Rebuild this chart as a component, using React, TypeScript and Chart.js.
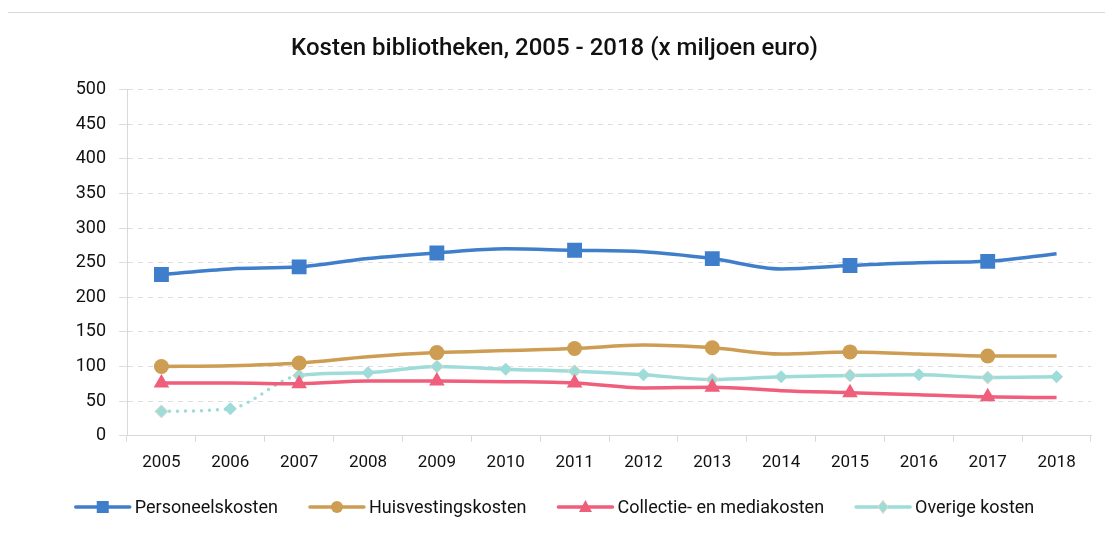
import React, { useEffect, useRef } from 'react';
import { Chart, registerables } from 'chart.js';
Chart.register(...registerables);

const years = ['2005', '2006', '2007', '2008', '2009', '2010', '2011', '2012', '2013', '2014', '2015', '2016', '2017', '2018'];
const personeelskosten = [233, 241, 244, 256, 264, 270, 268, 266, 256, 241, 246, 250, 252, 263];
const huisvestingskosten = [100, 101, 105, 114, 120, 123, 126, 131, 127, 118, 121, 118, 115, 115];
const collectiekosten = [76, 76, 75, 79, 79, 78, 76, 69, 70, 65, 62, 59, 56, 55];
const overigeKosten = [35, 39, 87, 91, 100, 96, 93, 88, 81, 85, 87, 88, 84, 85];
const yTicks = [0, 50, 100, 150, 200, 250, 300, 350, 400, 450, 500];

const BLUE = '#3f7ecb';
const GOLD = '#cc9d52';
const PINK = '#ef5e7b';
const TEAL = '#9ddcd8';
const FONT = 'Roboto, "DejaVu Sans", sans-serif';

type Shape = 'rect' | 'circle' | 'triangle' | 'rectRot';
const legendShapes: Shape[] = ['rect', 'circle', 'triangle', 'rectRot'];

function drawMarker(g: CanvasRenderingContext2D, shape: Shape, cx: number, cy: number, color: string, border?: string) {
  g.fillStyle = color;
  g.beginPath();
  if (shape === 'rect') {
    g.rect(cx - 6, cy - 6, 12, 12);
  } else if (shape === 'circle') {
    g.arc(cx, cy, 6, 0, Math.PI * 2);
  } else if (shape === 'triangle') {
    g.moveTo(cx, cy - 7);
    g.lineTo(cx + 6.5, cy + 5);
    g.lineTo(cx - 6.5, cy + 5);
    g.closePath();
  } else {
    g.moveTo(cx, cy - 6.5);
    g.lineTo(cx + 5, cy);
    g.lineTo(cx, cy + 6.5);
    g.lineTo(cx - 5, cy);
    g.closePath();
  }
  g.fill();
  if (border) {
    g.strokeStyle = border;
    g.lineWidth = 1;
    g.stroke();
  }
}

const customLegend = {
  id: 'customLegend',
  afterDraw(chart: any) {
    const g: CanvasRenderingContext2D = chart.ctx;
    const datasets = chart.data.datasets;
    const lineLen = 56;
    const textGap = 4;
    const itemGap = 31;
    const cy = 494;
    const centerX = 546.5;
    g.save();
    g.font = `18px ${FONT}`;
    const widths = datasets.map((d: any) => g.measureText(d.label).width);
    const total = widths.reduce((a: number, b: number) => a + b, 0) + datasets.length * (lineLen + textGap) + (datasets.length - 1) * itemGap;
    let x = centerX - total / 2;
    datasets.forEach((d: any, i: number) => {
      g.strokeStyle = d.borderColor;
      g.lineWidth = 3.5;
      g.lineCap = 'round';
      g.beginPath();
      g.moveTo(x + 1, cy);
      g.lineTo(x + lineLen - 1, cy);
      g.stroke();
      drawMarker(g, legendShapes[i], x + lineLen / 2, cy, d.borderColor, i === 3 ? '#e6d8c2' : undefined);
      g.fillStyle = '#111';
      g.textBaseline = 'middle';
      g.textAlign = 'left';
      g.fillText(d.label, x + lineLen + textGap, cy + 1);
      x += lineLen + textGap + widths[i] + itemGap;
    });
    g.restore();
  },
};

const oddOnly = (r: number) => years.map((_, i) => (i % 2 === 0 && i < 13 ? r : 0));

export default function App() {
  const ref = useRef<HTMLCanvasElement>(null);
  useEffect(() => {
    if (!ref.current) return;
    const chart = new Chart(ref.current, {
      type: 'line',
      plugins: [customLegend],
      data: {
        labels: years,
        datasets: [
          {
            label: 'Personeelskosten',
            data: personeelskosten,
            borderColor: BLUE,
            backgroundColor: BLUE,
            borderWidth: 3.5,
            pointStyle: 'rect',
            pointRadius: oddOnly(10.5),
            pointBorderWidth: 0,
            cubicInterpolationMode: 'monotone',
          },
          {
            label: 'Huisvestingskosten',
            data: huisvestingskosten,
            borderColor: GOLD,
            backgroundColor: GOLD,
            borderWidth: 3.5,
            pointStyle: 'circle',
            pointRadius: oddOnly(7.5),
            pointBorderWidth: 0,
            cubicInterpolationMode: 'monotone',
          },
          {
            label: 'Collectie- en mediakosten',
            data: collectiekosten,
            borderColor: PINK,
            backgroundColor: PINK,
            borderWidth: 3.5,
            pointStyle: 'triangle',
            pointRadius: oddOnly(9),
            pointBorderWidth: 0,
            cubicInterpolationMode: 'monotone',
          },
          {
            label: 'Overige kosten',
            data: overigeKosten,
            borderColor: TEAL,
            backgroundColor: TEAL,
            borderWidth: 3.5,
            borderCapStyle: 'round',
            pointStyle: 'rectRot',
            pointRadius: 6.5,
            pointBorderWidth: years.map((_, i) => (i % 2 === 0 && i < 13 ? 1 : 0)),
            pointBorderColor: years.map((_, i) => (i % 2 === 0 && i < 13 ? '#e6d8c2' : TEAL)),
            cubicInterpolationMode: 'monotone',
            segment: {
              borderDash: (ctx: any) => (ctx.p0DataIndex < 2 ? [0, 8] : undefined),
            },
          },
        ],
      },
      options: {
        animation: false,
        responsive: true,
        maintainAspectRatio: false,
        layout: { padding: { left: 10, right: 21, top: 0, bottom: 49 } },
        plugins: {
          tooltip: { enabled: false },
          legend: { display: false },
          title: {
            display: true,
            text: 'Kosten bibliotheken, 2005 - 2018 (x miljoen euro)',
            color: '#111',
            font: { family: FONT, size: 24, weight: '500' },
            padding: { top: 22, bottom: 26 },
          },
        },
        scales: {
          x: {
            offset: true,
            grid: { display: true, offset: true, drawOnChartArea: false, drawTicks: true, tickLength: 6, color: '#d9d9d9' },
            border: { display: true, color: '#d9d9d9' },
            ticks: { color: '#111', font: { family: FONT, size: 17 }, padding: 11, maxRotation: 0 },
          },
          y: {
            min: 0,
            max: 500,
            afterBuildTicks: (axis: any) => {
              axis.ticks = yTicks.map((v) => ({ value: v }));
            },
            afterFit: (axis: any) => {
              axis.width = 109;
            },
            grid: { color: '#dedede', tickLength: 8, lineWidth: 1 },
            border: { display: true, color: '#d9d9d9', dash: [5, 5] },
            ticks: { color: '#111', font: { family: FONT, size: 18 }, padding: 13 },
          },
        },
      },
    } as any);
    return () => chart.destroy();
  }, []);
  return (
    <div style={{ marginTop: 4, marginLeft: -1, width: 1110, height: 530, border: '1px solid #d9d9d9', borderRight: 'none', boxSizing: 'content-box' }}>
      <div style={{ position: 'relative', width: 1104, height: 520 }}>
        <canvas ref={ref} />
      </div>
    </div>
  );
}
